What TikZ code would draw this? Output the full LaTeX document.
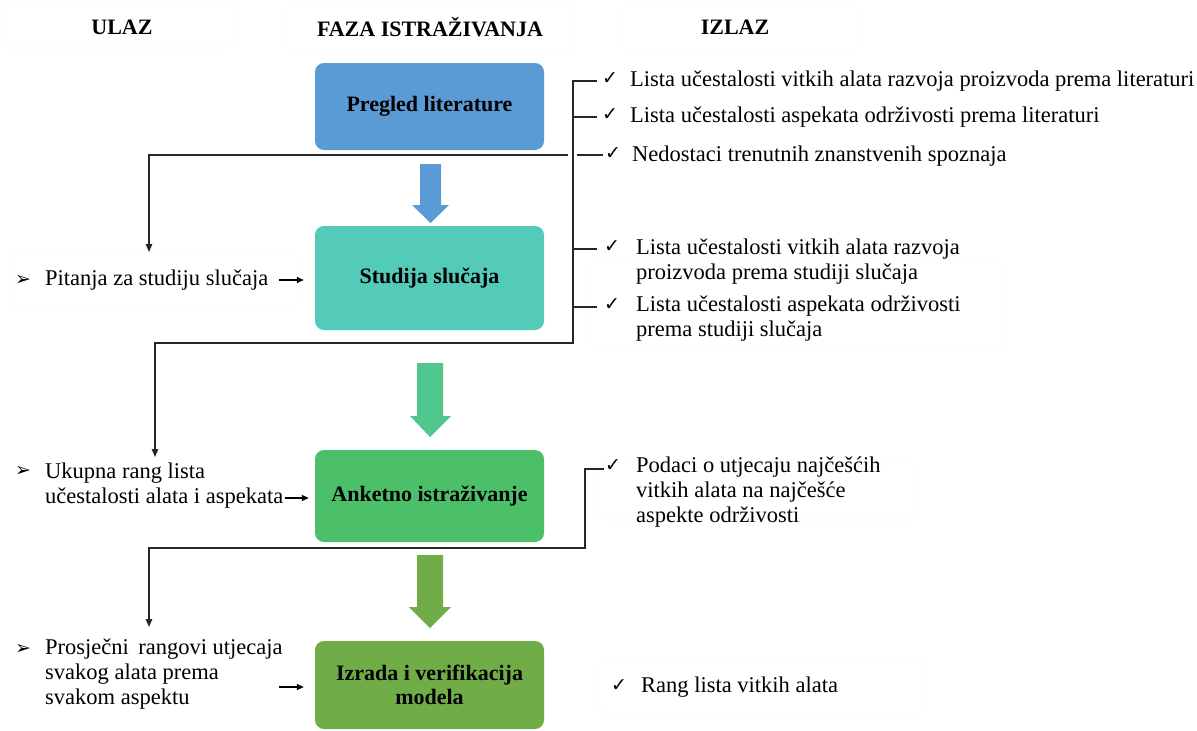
\documentclass[tikz,border=0pt]{standalone}
\usepackage{fontspec}
\setmainfont{Liberation Serif}
\newfontfamily\symf{DejaVu Sans}
\usetikzlibrary{arrows.meta}
\definecolor{cBlue}{HTML}{5B9BD5}
\definecolor{cTeal}{HTML}{53CBB8}
\definecolor{cGreen}{HTML}{4BC068}
\definecolor{cOlive}{HTML}{70AD47}
\definecolor{cArrTwo}{HTML}{50C78C}
\begin{document}
\begin{tikzpicture}[x=1pt,y=-1pt,
  phase/.style={rounded corners=9pt, inner sep=0pt, minimum width=229pt, align=center,
                font=\fontsize{22}{24}\selectfont\bfseries},
  txt/.style={inner sep=0pt, anchor=west, align=left, font=\fontsize{22.5}{25}\selectfont},
  chk/.style={inner sep=0pt, font=\symf\fontsize{19}{19}\selectfont},
  bul/.style={inner sep=0pt, font=\symf\fontsize{19}{19}\selectfont},
  conn/.style={line width=1.4pt, draw=black!85},
  arr/.style={conn, -{Triangle[length=8pt,width=6.5pt]}},
  inarr/.style={line width=1.3pt, draw=black, -{Triangle[length=7pt,width=6pt]}},
  ghost/.style={draw=black!2.5, rounded corners=8pt, line width=0.6pt},
  head/.style={inner sep=0pt, font=\fontsize{22}{25}\selectfont\bfseries}]
\useasboundingbox (0,0) rectangle (1197,731);

% faint frames
\draw[ghost] (0,5) rectangle (237,48);
\draw[ghost] (287,3) rectangle (574,52);
\draw[ghost] (622,5) rectangle (860,50);
\draw[ghost] (11,252) rectangle (297,308);
\draw[ghost] (590,263) rectangle (1007,349);
\draw[ghost] (595,463) rectangle (918,520);
\draw[ghost] (599,658) rectangle (924,713);

% headings
\node[head] (hUlaz) at (122,27) {ULAZ};
\node[head] (hFaza) at (430,27) {FAZA ISTRAŽIVANJA};
\node[head] (hIzlaz) at (735,27) {IZLAZ};

% phase boxes
\node[phase, fill=cBlue,  minimum height=87pt]  (p1) at (429.5,106.5) {Pregled literature};
\node[phase, fill=cTeal,  minimum height=104pt] (p2) at (429.5,278) {Studija slučaja};
\node[phase, fill=cGreen, minimum height=92pt]  (p3) at (429.5,496) {Anketno istraživanje};
\node[phase, fill=cOlive, minimum height=88pt]  (p4) at (429.5,685) {Izrada i verifikacija\\modela};

% block arrows between phases
\fill[cBlue]   (420,164) -- (441,164) -- (441,205) -- (449,205) -- (430.5,223) -- (412,205) -- (420,205) -- cycle;
\fill[cArrTwo] (417,363) -- (443,363) -- (443,416) -- (451,416) -- (430,437) -- (410,416) -- (417,416) -- cycle;
\fill[cOlive]  (417,555) -- (443,555) -- (443,607) -- (451,607) -- (430,628) -- (409,607) -- (417,607) -- cycle;

% inputs
\node[bul] (b1) at (23,280) {➢};
\node[txt] (in1) at (45,280) {Pitanja za studiju slučaja};
\node[bul] (b2) at (23,471) {➢};
\node[txt] (in2) at (45,485.5) {Ukupna rang lista\\učestalosti alata i aspekata};
\node[bul] (b3) at (23,649) {➢};
\node[txt] (in3) at (45,674) {Prosječni\, rangovi utjecaja\\svakog alata prema\\svakom aspektu};

\coordinate (a1s) at (279,280);
\coordinate (a2s) at (285,498);
\coordinate (a3s) at (279,687);
\draw[inarr, shorten >=11pt] (a1s) -- (p2.west |- a1s);
\draw[inarr, shorten >=6pt] (a2s) -- (p3.west |- a2s);
\draw[inarr, shorten >=11pt] (a3s) -- (p4.west |- a3s);

% outputs
\node[chk] (c1) at (610,79) {✓};
\node[txt] (o1) at (630,81) {Lista učestalosti vitkih alata razvoja proizvoda prema literaturi};
\node[chk] (c2) at (610,115) {✓};
\node[txt] (o2) at (630,117) {Lista učestalosti aspekata održivosti prema literaturi};
\node[chk] (c3) at (613,154) {✓};
\node[txt] (o3) at (632,156) {Nedostaci trenutnih znanstvenih spoznaja};
\node[chk] (c4) at (612,247) {✓};
\node[txt] (o4) at (636,261.5) {Lista učestalosti vitkih alata razvoja\\proizvoda prema studiji slučaja};
\node[chk] (c5) at (612,305) {✓};
\node[txt] (o5) at (636,319) {Lista učestalosti aspekata održivosti\\prema studiji slučaja};
\node[chk] (c6) at (613,466) {✓};
\node[txt] (o6) at (636,492) {Podaci o utjecaju najčešćih\\vitkih alata na najčešće\\aspekte održivosti};
\node[chk] (c7) at (619,686) {✓};
\node[txt] (o7) at (641,687) {Rang lista vitkih alata};

% connectors
\coordinate (kA) at (568,155);
\coordinate (eA) at (149,252);
\draw[conn] (603,155) -- (577,155);
\draw[arr] (kA) -- (eA |- kA) -- (eA);

\coordinate (kB) at (573,343);
\coordinate (eB) at (155,457);
\draw[arr] (597,81) -- (kB |- 0,81) -- (kB) -- (eB |- kB) -- (eB);
\draw[conn] (kB |- 0,117) -- (597,117);
\draw[conn] (kB |- 0,249) -- (597,249);
\draw[conn] (kB |- 0,307) -- (597,307);

\coordinate (kC) at (585,548);
\coordinate (eC) at (149,627);
\draw[arr] (604,469) -- (kC |- 0,469) -- (kC) -- (eC |- kC) -- (eC);
\end{tikzpicture}
\end{document}
